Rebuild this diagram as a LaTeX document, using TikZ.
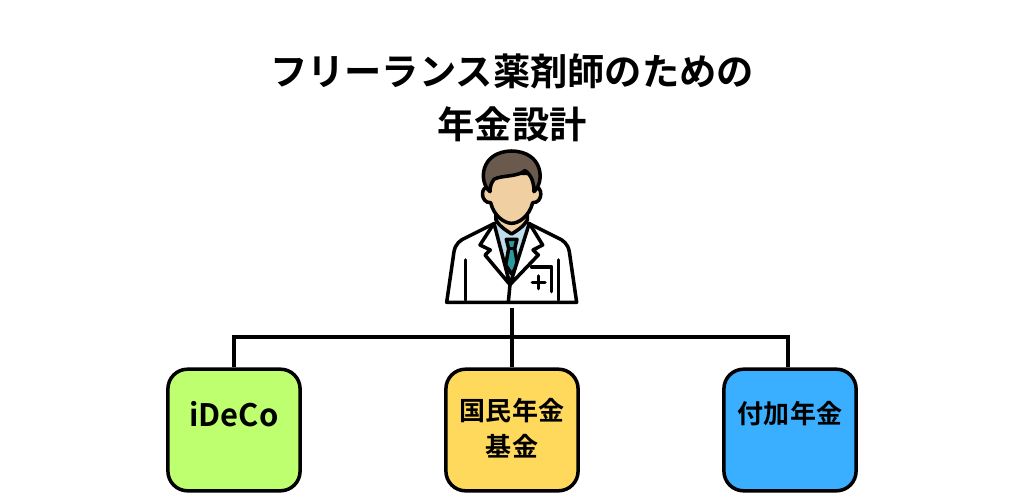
\documentclass[tikz,border=0pt]{standalone}
\usepackage{fontspec}
\setmainfont{Noto Sans CJK JP}[BoldFont={Noto Sans CJK JP Bold}]
\usetikzlibrary{calc}

\definecolor{hair}{HTML}{6A5A4E}
\definecolor{skin}{HTML}{F0CFA2}
\definecolor{shirt}{HTML}{BFDCEB}
\definecolor{tie}{HTML}{2A9A9E}
\definecolor{ideco}{HTML}{BEFF70}
\definecolor{kokumin}{HTML}{FFD95C}
\definecolor{fuka}{HTML}{3AAEFF}

\tikzset{
    card/.style={draw=black,line width=2.5pt,rounded corners=14pt,minimum width=94pt,minimum height=86.5pt,inner sep=0pt},
    cardtext/.style={font=\bfseries\fontsize{18.5}{25.5}\selectfont,align=center,text=black},
    titletext/.style={font=\bfseries\fontsize{26.5}{38}\selectfont,align=center,text=black},
    wire/.style={draw=black,line width=2.5pt},
    outline/.style={draw=black,line width=2.5pt,line join=round,line cap=round}
}

\begin{document}
\begin{tikzpicture}[x=0.025cm,y=-0.025cm]
            \useasboundingbox (0,0) rectangle (1024,504);

            % Title
            \node[titletext] (title) at (512,98) {フリーランス薬剤師のための\\年金設計};

            % Draw the pharmacist
            \begin{scope}[shift={(430,140)},scale=0.3333]
                % coat
                \draw[outline,fill=white] (50,487) -- (72,335) .. controls (76,312) and (90,300) .. (110,292) -- (190,252) -- (300,252) -- (380,292) .. controls (400,300) and (414,312) .. (418,335) -- (440,487) -- cycle;
                % shirt and tie
                \fill[shirt] (192,252) -- (298,252) -- (245,432) -- cycle;
                \draw[outline,fill=tie] (229,298) -- (261,298) -- (254,326) -- (263,375) -- (245,402) -- (227,375) -- (236,326) -- cycle;
                \draw[outline] (236,326) -- (254,326);
                % lapels
                \draw[outline,fill=white] (192,250) -- (150,315) -- (181,330) -- (165,345) -- (240,434) -- cycle;
                \draw[outline,fill=white] (298,250) -- (338,315) -- (309,330) -- (325,345) -- (240,434) -- cycle;
                \draw[outline] (240,434) -- (235,487);
                % pocket, cross and sleeves
                \draw[outline] (305,381) -- (365,381) -- (365,455);
                \draw[outline] (307,428) -- (345,428);
                \draw[outline] (325,408) -- (325,446);
                \draw[outline] (106,360) -- (106,480);
                \draw[outline] (385,360) -- (385,480);
                % neck and face
                \draw[outline,fill=skin] (198,215) -- (198,240) .. controls (210,262) and (235,275) .. (245,282) .. controls (255,275) and (280,262) .. (292,240) -- (292,215) -- cycle;
                \draw[outline,fill=skin] (178,100) -- (178,142) .. controls (150,135) and (150,190) .. (182,188) .. controls (192,230) and (225,250) .. (245,250) .. controls (265,250) and (298,230) .. (308,188) .. controls (340,190) and (340,135) .. (312,142) -- (312,100) -- cycle;
                % hair
                \draw[outline,fill=hair] (180,155) .. controls (145,125) and (150,35) .. (245,33) .. controls (340,35) and (345,125) .. (312,155) .. controls (312,130) and (305,105) .. (285,92) .. controls (260,112) and (215,105) .. (192,118) .. controls (184,128) and (180,140) .. (180,155) -- cycle;
            \end{scope}

            % Draw the boxes
            \node[card,fill=ideco] (box1) at (234,430) {};
            \node[card,fill=kokumin] (box2) at (512,430) {};
            \node[card,fill=fuka] (box3) at (790,430) {};

            \node[cardtext,font=\bfseries\fontsize{22}{26}\selectfont] (text1) at (234,414) {iDeCo};
            \node[cardtext] (text2) at (512,428) {国民年金\\基金};
            \node[cardtext] (text3) at (790,414) {付加年金};

            % Draw the connectors
            \coordinate (doctor) at (512,308);
            \coordinate (branch) at (512,337);
            \draw[wire] (doctor) -- (box2.north);
            \draw[wire] (box1.north) |- (branch);
            \draw[wire] ($(box3.north)+(-2,0)$) |- (branch);
        \end{tikzpicture}
\end{document}
